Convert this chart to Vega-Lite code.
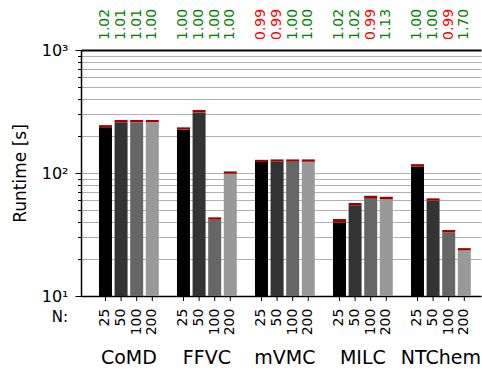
{
  "$schema": "https://vega.github.io/schema/vega-lite/v6.json",
  "width": 400,
  "height": 246,
  "autosize": {"type": "none"},
  "padding": {"left": 81, "top": 50, "right": 1, "bottom": 75},
  "config": {"font": "DejaVu Sans", "view": {"stroke": null}},
  "data": {
    "values": [
      {"app": "CoMD", "N": 25, "lo": 235, "hi": 245, "ratio": 1.02},
      {"app": "CoMD", "N": 50, "lo": 259, "hi": 270, "ratio": 1.01},
      {"app": "CoMD", "N": 100, "lo": 259, "hi": 270, "ratio": 1.01},
      {"app": "CoMD", "N": 200, "lo": 259, "hi": 270, "ratio": 1.0},
      {"app": "FFVC", "N": 25, "lo": 225, "hi": 235, "ratio": 1.0},
      {"app": "FFVC", "N": 50, "lo": 311, "hi": 325, "ratio": 1.0},
      {"app": "FFVC", "N": 100, "lo": 41.8, "hi": 43.6, "ratio": 1.0},
      {"app": "FFVC", "N": 200, "lo": 98.7, "hi": 103, "ratio": 1.0},
      {"app": "mVMC", "N": 25, "lo": 122.6, "hi": 128, "ratio": 0.99},
      {"app": "mVMC", "N": 50, "lo": 123.5, "hi": 129, "ratio": 0.99},
      {"app": "mVMC", "N": 100, "lo": 123.5, "hi": 129, "ratio": 1.0},
      {"app": "mVMC", "N": 200, "lo": 123.5, "hi": 129, "ratio": 1.0},
      {"app": "MILC", "N": 25, "lo": 39.5, "hi": 42.3, "ratio": 1.02},
      {"app": "MILC", "N": 50, "lo": 54.6, "hi": 57, "ratio": 1.02},
      {"app": "MILC", "N": 100, "lo": 62.5, "hi": 65.3, "ratio": 0.99},
      {"app": "MILC", "N": 200, "lo": 61.4, "hi": 64.1, "ratio": 1.13},
      {"app": "NTChem", "N": 25, "lo": 113, "hi": 118, "ratio": 1.0},
      {"app": "NTChem", "N": 50, "lo": 59.6, "hi": 62.2, "ratio": 1.0},
      {"app": "NTChem", "N": 100, "lo": 33.0, "hi": 34.4, "ratio": 0.99},
      {"app": "NTChem", "N": 200, "lo": 23.5, "hi": 24.5, "ratio": 1.7}
    ]
  },
  "encoding": {
    "x": {
      "field": "app", "type": "nominal",
      "sort": ["CoMD", "FFVC", "mVMC", "MILC", "NTChem"],
      "scale": {"paddingInner": 0.2, "paddingOuter": 0.164, "align": 0.652},
      "axis": {
        "title": "N:", "titleAngle": 0, "titleX": -21.5, "titleY": 25,
        "titleAlign": "center", "titleBaseline": "alphabetic",
        "titleFontSize": 15, "titleFontWeight": "normal", "titleColor": "black",
        "labelAngle": 0, "labelFontSize": 19, "labelPadding": 52, "labelColor": "black",
        "labelBaseline": "top", "labelAlign": "center",
        "ticks": false, "tickSize": 0,
        "domainColor": "black", "domainWidth": 1.5
      }
    },
    "xOffset": {
      "field": "N", "type": "ordinal", "sort": [25, 50, 100, 200],
      "scale": {"paddingInner": 0.167, "paddingOuter": 0.083}
    }
  },
  "layer": [
    {
      "mark": {"type": "bar"},
      "encoding": {
        "y": {
          "field": "lo", "type": "quantitative",
          "scale": {"type": "log", "domain": [10, 1000], "nice": false},
          "axis": {
            "title": "Runtime [s]", "titleFontSize": 17, "titleFontWeight": "normal",
            "titleColor": "black", "titleX": -61, "titleBaseline": "middle",
            "values": [10, 20, 30, 40, 50, 60, 70, 80, 90, 100, 200, 300, 400, 500, 600, 700, 800, 900, 1000],
            "labelExpr": "datum.value == 1000 ? '10³' : datum.value == 100 ? '10²' : datum.value == 10 ? '10¹' : ''",
            "labelFontSize": 16, "labelColor": "black", "labelPadding": 7, "labelOverlap": false,
            "tickColor": "black",
            "tickSize": {"condition": {"test": "datum.value == 10 || datum.value == 100 || datum.value == 1000", "value": 6}, "value": 3.5},
            "grid": true,
            "gridColor": {"condition": {"test": "datum.value == 1000", "value": "black"}, "value": "#b0b0b0"},
            "gridWidth": {"condition": {"test": "datum.value == 1000", "value": 2}, "value": 1},
            "domainColor": "black", "domainWidth": 1.5
          }
        },
        "y2": {"datum": 10},
        "color": {
          "field": "N", "type": "ordinal", "sort": [25, 50, 100, 200],
          "scale": {"range": ["#000000", "#333333", "#666666", "#999999"]},
          "legend": null
        }
      }
    },
    {
      "mark": {"type": "bar", "color": "#a00000"},
      "encoding": {
        "y": {"field": "hi", "type": "quantitative"},
        "y2": {"field": "lo"}
      }
    },
    {
      "mark": {"type": "rule", "color": "black", "strokeWidth": 1},
      "encoding": {
        "y": {"datum": 10},
        "y2": {"datum": 9.106}
      }
    },
    {
      "mark": {"type": "text", "angle": 270, "align": "right", "baseline": "middle", "fontSize": 14, "color": "black"},
      "encoding": {
        "y": {"datum": 7.9},
        "text": {"field": "N", "type": "ordinal"}
      }
    },
    {
      "mark": {"type": "text", "angle": 270, "align": "left", "baseline": "middle", "fontSize": 14},
      "encoding": {
        "y": {"datum": 1206},
        "text": {"field": "ratio", "type": "quantitative", "format": ".2f"},
        "color": {"condition": {"test": "datum.ratio < 1", "value": "#ff0000"}, "value": "#008000"}
      }
    }
  ]
}
